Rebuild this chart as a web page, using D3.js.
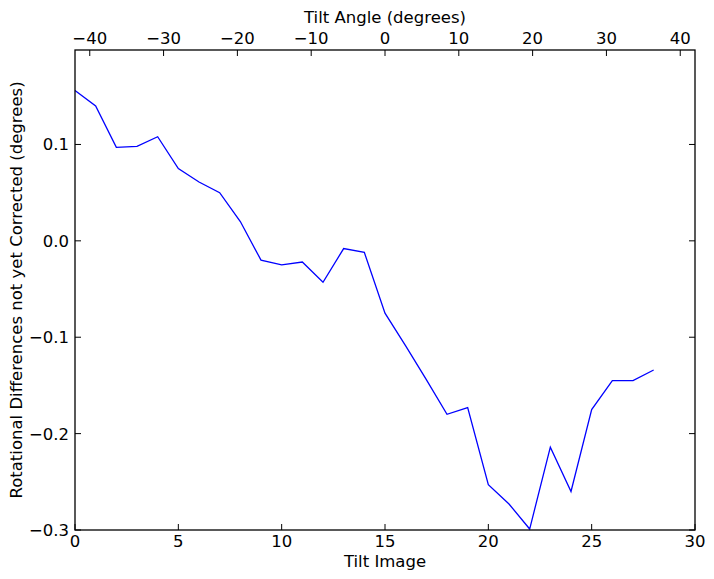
<!DOCTYPE html>
<html><head><meta charset="utf-8">
<script src="https://cdn.jsdelivr.net/npm/d3@7"></script>
<style>body{margin:0;background:#fff}svg{display:block}text{font-family:"DejaVu Sans",sans-serif;fill:#000}</style>
</head><body>
<script>
const tiltImage = d3.range(0, 29);
const rotDiff = [0.156,0.140,0.097,0.098,0.108,0.075,0.061,0.050,0.020,-0.020,-0.025,-0.022,-0.043,-0.008,-0.012,-0.075,-0.109,-0.144,-0.180,-0.173,-0.253,-0.273,-0.299,-0.214,-0.260,-0.175,-0.145,-0.145,-0.134];
const bottomTicks = [0,5,10,15,20,25,30];
const topTicks = [-40,-30,-20,-10,0,10,20,30,40];
const leftTicks = [-0.3,-0.2,-0.1,0.0,0.1];

const W=714,H=579, L=75,R=695,T=50,B=530;
const fs=16.5;
const svg=d3.select("body").append("svg").attr("width",W).attr("height",H);
const x=d3.scaleLinear().domain([0,30]).range([L,R]);
const xt=d3.scaleLinear().domain([-42,42]).range([L,R]);
const y=d3.scaleLinear().domain([-0.3,0.198]).range([B,T]);
const fmtMinus = s => s.replace("-","\u2212");

// line
svg.append("path").datum(rotDiff).attr("fill","none").attr("stroke","#0000ff").attr("stroke-width",1.3)
  .attr("d",d3.line().x((d,i)=>x(tiltImage[i])).y(d=>y(d)));

const tk=6;
const g=svg.append("g").attr("stroke","#000").attr("stroke-width",1);
bottomTicks.forEach(v=>{g.append("line").attr("x1",x(v)).attr("x2",x(v)).attr("y1",B).attr("y2",B-tk);});
topTicks.forEach(v=>{g.append("line").attr("x1",xt(v)).attr("x2",xt(v)).attr("y1",T).attr("y2",T+tk);});
leftTicks.forEach(v=>{
  g.append("line").attr("x1",L).attr("x2",L+tk).attr("y1",y(v)).attr("y2",y(v));
  g.append("line").attr("x1",R).attr("x2",R-tk).attr("y1",y(v)).attr("y2",y(v));
});
svg.append("rect").attr("x",L).attr("y",T).attr("width",R-L).attr("height",B-T).attr("fill","none").attr("stroke","#000").attr("stroke-width",1.3);

svg.selectAll(".bt").data(bottomTicks).enter().append("text").attr("x",d=>x(d)).attr("y",B+17)
  .attr("text-anchor","middle").attr("font-size",fs).text(d=>d3.format("d")(d));
svg.selectAll(".tt").data(topTicks).enter().append("text").attr("x",d=>xt(d)).attr("y",T-6)
  .attr("text-anchor","middle").attr("font-size",fs).text(d=>fmtMinus(String(d)));
svg.selectAll(".lt").data(leftTicks).enter().append("text").attr("x",L-6).attr("y",d=>y(d)).attr("dy","0.36em")
  .attr("text-anchor","end").attr("font-size",fs).text(d=>fmtMinus(d3.format(".1f")(d)));

svg.append("text").attr("x",(L+R)/2).attr("y",567).attr("text-anchor","middle").attr("font-size",fs).text("Tilt Image");
svg.append("text").attr("x",(L+R)/2).attr("y",23).attr("text-anchor","middle").attr("font-size",fs).text("Tilt Angle (degrees)");
svg.append("text").attr("transform",`translate(22,${(T+B)/2}) rotate(-90)`).attr("text-anchor","middle").attr("font-size",fs)
  .text("Rotational Differences not yet Corrected (degrees)");
</script>
</body></html>
